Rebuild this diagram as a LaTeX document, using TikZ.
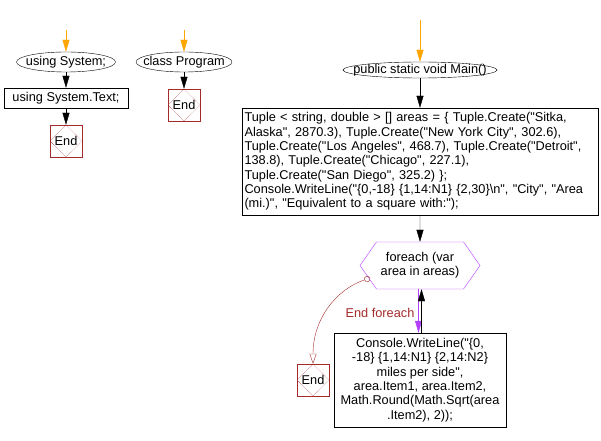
\documentclass[tikz,border=0pt]{standalone}
\usepackage{fontspec}
\setmainfont{Liberation Sans}[Ligatures=TeXOff]
\usepackage{tikz}
\usetikzlibrary{
    arrows.meta,
    shapes.geometric,
    shapes.symbols,
    positioning
}
\definecolor{endred}{RGB}{165,42,42}
\definecolor{loopvio}{RGB}{180,64,255}
\definecolor{startorg}{RGB}{255,165,0}
\tikzset{ovl/.style={ellipse, draw=black, inner xsep=-16bp, inner ysep=-5bp}}
\tikzset{blk/.style={rectangle, draw=black, inner sep=2pt}}
\tikzset{endb/.style={rectangle, draw=endred, minimum width=32bp, minimum height=32bp, inner sep=0pt,
    path picture={\draw[endred, densely dotted] (path picture bounding box.north) -- (path picture bounding box.east)
        -- (path picture bounding box.south) -- (path picture bounding box.west) -- cycle;}}}
\tikzset{hexa/.style={signal, signal to=east and west, signal pointer angle=110, draw=loopvio,
    minimum width=120bp, minimum height=47bp, inner sep=0pt, align=center}}
\tikzset{flw/.style={-{Triangle[width=7bp, length=12bp]}}}

\begin{document}
\begin{tikzpicture}[x=1bp, y=-1bp, font=\fontsize{12.8}{14.4}\selectfont]
                        \useasboundingbox (0, 0) rectangle (601, 441);
                        \node[ovl, minimum width=99bp, minimum height=20bp] (usys) at (66, 62) {using System;};
                        \node[blk, minimum width=124bp, minimum height=20bp] (utext) at (66, 98) {using System.Text;};
                        \node[endb] (end1) at (66, 141) {End};
                        \node[ovl, minimum width=96bp, minimum height=20bp] (cprog) at (184, 62) {class Program};
                        \node[endb] (end2) at (184, 105) {End};
                        \node[ovl, minimum width=154bp, minimum height=16bp] (pmain) at (420, 70) {public static void Main()};
                        \node[blk, minimum width=356bp, minimum height=107bp, text width=351bp, align=left] (decl) at (420, 161.5)
                        {Tuple < string, double > [] areas = \{ Tuple.Create("Sitka,\\
                        Alaska", 2870.3), Tuple.Create("New York City", 302.6),\\
                        Tuple.Create("Los Angeles", 468.7), Tuple.Create("Detroit",\\
                        138.8), Tuple.Create("Chicago", 227.1),\\
                        Tuple.Create("San Diego", 325.2) \};\\
                        Console.WriteLine("\{0,-18\} \{1,14:N1\} \{2,30\}\textbackslash n", "City", "Area\\
                        (mi.)", "Equivalent to a square with:");};
                        \node[hexa] (loop) at (420, 265.5) {foreach (var\\area in areas)};
                        \node[blk, minimum width=172bp, minimum height=94bp, align=center] (wline) at (420, 380)
                        {Console.WriteLine("\{0,\\
                        -18\} \{1,14:N1\} \{2,14:N2\}\\
                        miles per side",\\
                        area.Item1, area.Item2,\\
                        Math.Round(Math.Sqrt(area\\
                        .Item2), 2));};
                        \node[endb] (end3) at (313, 380) {End};
                        \node[text=endred] (efl) at (380, 313) {End foreach};

                        \coordinate (s1) at (66, 30);
                        \coordinate (s2) at (184, 30);
                        \coordinate (s3) at (420, 20);
                        \coordinate (ex) at (370, 278);
                        \draw[flw, startorg] (s1) -- (usys);
                        \draw[flw] (usys) -- (utext);
                        \draw[flw] (utext) -- (end1);
                        \draw[flw, startorg] (s2) -- (cprog);
                        \draw[flw] (cprog) -- (end2);
                        \draw[flw, startorg] (s3) -- (pmain);
                        \draw[flw] (pmain) -- (decl);
                        \draw[flw] (decl) -- (loop);
                        \draw[flw, loopvio] ([xshift=-1.5bp]loop.south) -- ([xshift=-1.5bp]wline.north);
                        \draw[flw] ([xshift=1.5bp]wline.north) -- ([xshift=1.5bp]loop.south);
                        \draw[endred, {Circle[open, length=6bp]}-{Triangle[open, width=7bp, length=10bp]}]
                        (ex) .. controls (335, 290) and (313, 320) .. (end3.north);
                    \end{tikzpicture}
\end{document}
